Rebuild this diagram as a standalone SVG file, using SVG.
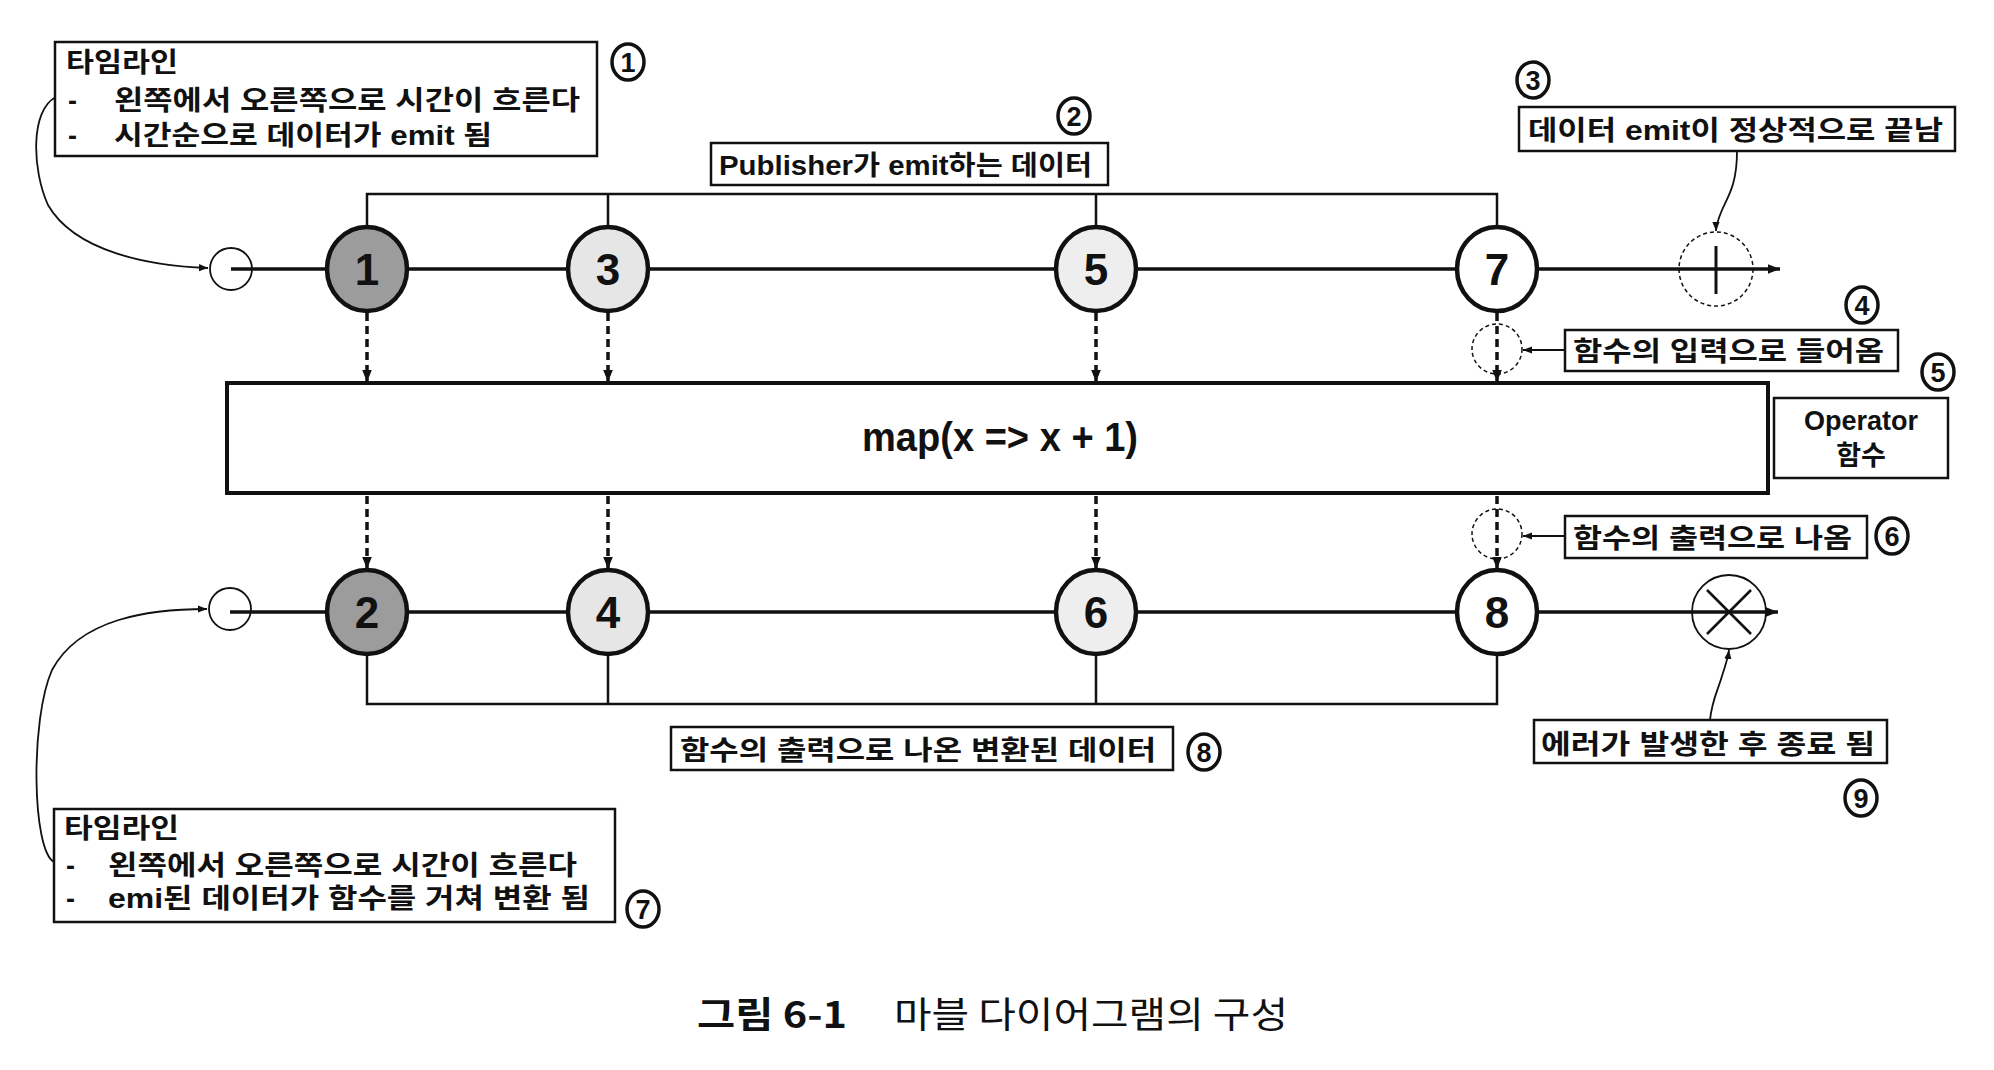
<svg xmlns="http://www.w3.org/2000/svg" width="1994" height="1070" viewBox="0 0 1994 1070">
<style>
.kr{font-family:"Liberation Sans","Noto Sans CJK KR","Noto Sans",sans-serif;font-weight:700;font-size:27px;fill:#111}
.num{font-family:"Liberation Sans",Arial,sans-serif;font-weight:700;font-size:44px;fill:#111;text-anchor:middle}
.cn{font-family:"Liberation Sans",Arial,sans-serif;font-weight:700;font-size:27px;fill:#111;text-anchor:middle}
.box{fill:#fff;stroke:#111;stroke-width:2.5}
.tl{stroke:#111;stroke-width:3.5;fill:none}
.br{stroke:#111;stroke-width:2.5;fill:none}
.dash{stroke:#111;stroke-width:3.5;stroke-dasharray:8 5;fill:none}
.thin{stroke:#111;stroke-width:1.8;fill:none}
.dc{stroke:#111;stroke-width:1.5;stroke-dasharray:4 3;fill:none}
.node{stroke:#111;stroke-width:4.5}
.cc{fill:#fff;stroke:#111;stroke-width:3.5}
</style>
<defs>
<marker id="ah" viewBox="0 0 10 10" refX="10" refY="5" markerWidth="12" markerHeight="12" markerUnits="userSpaceOnUse" orient="auto">
<path d="M0,1 L10,5 L0,9 z" fill="#111" stroke="none"/>
</marker>
<marker id="ahs" viewBox="0 0 10 10" refX="10" refY="5" markerWidth="9" markerHeight="9" markerUnits="userSpaceOnUse" orient="auto">
<path d="M0,1 L10,5 L0,9 z" fill="#111" stroke="none"/>
</marker>
</defs>
<rect width="1994" height="1070" fill="#fff"/>

<g id="connectors">
<line class="tl" x1="231" y1="269" x2="1780" y2="269" marker-end="url(#ah)"/>
<line class="tl" x1="231" y1="612" x2="1778" y2="612" marker-end="url(#ah)"/>
<path class="br" d="M367 227 V194 H1497 V227 M608 194 V227 M1096 194 V227"/>
<path class="br" d="M367 654 V704 H1497 V654 M608 704 V654 M1096 704 V654"/>
<line class="dash" x1="367" y1="313" x2="367" y2="382" marker-end="url(#ah)"/>
<line class="dash" x1="608" y1="313" x2="608" y2="382" marker-end="url(#ah)"/>
<line class="dash" x1="1096" y1="313" x2="1096" y2="382" marker-end="url(#ah)"/>
<line class="dash" x1="367" y1="496" x2="367" y2="569" marker-end="url(#ah)"/>
<line class="dash" x1="608" y1="496" x2="608" y2="569" marker-end="url(#ah)"/>
<line class="dash" x1="1096" y1="496" x2="1096" y2="569" marker-end="url(#ah)"/>
<path class="thin" d="M56 97 C30 110, 32 170, 48 205 C75 252, 150 266, 208 268" marker-end="url(#ahs)"/>
<path class="thin" d="M54 862 C32 850, 30 720, 52 670 C80 618, 150 609, 207 609" marker-end="url(#ahs)"/>
<path class="thin" d="M1737 151 C1737 185, 1728 196, 1722 210 C1717 222, 1716 226, 1716 231" marker-end="url(#ahs)"/>
<path class="thin" d="M1710 720 C1712 700, 1718 690, 1722 676 C1726 664, 1728 658, 1729 650" marker-end="url(#ahs)"/>
<line class="thin" x1="1565" y1="350" x2="1523" y2="350" marker-end="url(#ahs)"/>
<line class="thin" x1="1565" y1="536" x2="1523" y2="536" marker-end="url(#ahs)"/>
</g>

<g id="start-top"><circle cx="231" cy="269" r="21" class="thin" style="fill:#fff"/><line class="tl" x1="231" y1="269" x2="252" y2="269"/></g>
<g id="start-bottom"><circle cx="230" cy="609" r="21" class="thin" style="fill:#fff"/><line class="tl" x1="230" y1="612" x2="251" y2="612"/></g>

<g id="node-1"><ellipse cx="367" cy="269" rx="40" ry="42" class="node" fill="#9c9c9c"/><text x="367" y="285" class="num">1</text></g>
<g id="node-3"><ellipse cx="608" cy="269" rx="40" ry="42" class="node" fill="#e6e6e6"/><text x="608" y="285" class="num">3</text></g>
<g id="node-5"><ellipse cx="1096" cy="269" rx="40" ry="42" class="node" fill="#eeeeee"/><text x="1096" y="285" class="num">5</text></g>
<g id="node-7"><ellipse cx="1497" cy="269" rx="40" ry="42" class="node" fill="#fff"/><text x="1497" y="285" class="num">7</text></g>

<g id="node-2"><ellipse cx="367" cy="612" rx="40" ry="42" class="node" fill="#9c9c9c"/><text x="367" y="628" class="num">2</text></g>
<g id="node-4"><ellipse cx="608" cy="612" rx="40" ry="42" class="node" fill="#e6e6e6"/><text x="608" y="628" class="num">4</text></g>
<g id="node-6"><ellipse cx="1096" cy="612" rx="40" ry="42" class="node" fill="#eeeeee"/><text x="1096" y="628" class="num">6</text></g>
<g id="node-8"><ellipse cx="1497" cy="612" rx="40" ry="42" class="node" fill="#fff"/><text x="1497" y="628" class="num">8</text></g>

<g id="complete"><circle cx="1716" cy="269" r="37" class="dc"/><line x1="1716" y1="246" x2="1716" y2="294" stroke="#111" stroke-width="3"/></g>
<g id="error"><circle cx="1729" cy="612" r="37" class="thin"/><path d="M1707 590 L1751 634 M1751 590 L1707 634" stroke="#111" stroke-width="2.6" fill="none"/></g>

<g id="in-7">
<circle cx="1497" cy="349" r="25" class="dc"/>
<line class="dash" x1="1497" y1="313" x2="1497" y2="382" marker-end="url(#ah)"/>
</g>
<g id="out-8">
<circle cx="1497" cy="534" r="25" class="dc"/>
<line class="dash" x1="1497" y1="496" x2="1497" y2="569" marker-end="url(#ah)"/>
</g>

<g id="operator">
<rect x="227" y="383" width="1541" height="110" fill="#fff" stroke="#111" stroke-width="4"/>
<text x="862" y="451" font-family="Liberation Sans, Arial, sans-serif" font-weight="700" font-size="40" fill="#111" textLength="276" lengthAdjust="spacingAndGlyphs">map(x =&gt; x + 1)</text>
</g>

<g id="label-1">
<rect class="box" x="55" y="42" width="542" height="114"/>
<text class="kr"><tspan x="66" y="72" textLength="112" lengthAdjust="spacingAndGlyphs">타임라인</tspan><tspan x="68" y="110">-</tspan><tspan x="114" y="110" textLength="466" lengthAdjust="spacingAndGlyphs">왼쪽에서 오른쪽으로 시간이 흐른다</tspan><tspan x="68" y="145">-</tspan><tspan x="114" y="145" textLength="378" lengthAdjust="spacingAndGlyphs">시간순으로 데이터가 emit 됨</tspan></text>
<ellipse class="cc" cx="628" cy="62" rx="16" ry="18"/><text class="cn" x="628" y="72">1</text>
</g>

<g id="label-2">
<rect class="box" x="711" y="143" width="397" height="42"/>
<text class="kr" x="719" y="175" textLength="373" lengthAdjust="spacingAndGlyphs">Publisher가 emit하는 데이터</text>
<ellipse class="cc" cx="1074" cy="116" rx="16" ry="18"/><text class="cn" x="1074" y="126">2</text>
</g>

<g id="label-3">
<rect class="box" x="1519" y="107" width="436" height="44"/>
<text class="kr" x="1528" y="140" textLength="415" lengthAdjust="spacingAndGlyphs">데이터 emit이 정상적으로 끝남</text>
<ellipse class="cc" cx="1533" cy="80" rx="16" ry="18"/><text class="cn" x="1533" y="90">3</text>
</g>

<g id="label-4">
<rect class="box" x="1565" y="330" width="333" height="41"/>
<text class="kr" x="1573" y="361" textLength="311" lengthAdjust="spacingAndGlyphs">함수의 입력으로 들어옴</text>
<ellipse class="cc" cx="1862" cy="305" rx="16" ry="18"/><text class="cn" x="1862" y="315">4</text>
</g>

<g id="label-5">
<rect class="box" x="1774" y="398" width="174" height="80"/>
<text class="kr" font-size="26" text-anchor="middle"><tspan x="1861" y="430">Operator</tspan><tspan x="1861" y="465">함수</tspan></text>
<ellipse class="cc" cx="1938" cy="372" rx="16" ry="18"/><text class="cn" x="1938" y="382">5</text>
</g>

<g id="label-6">
<rect class="box" x="1565" y="516" width="302" height="42"/>
<text class="kr" x="1573" y="548" textLength="279" lengthAdjust="spacingAndGlyphs">함수의 출력으로 나옴</text>
<ellipse class="cc" cx="1892" cy="536" rx="16" ry="18"/><text class="cn" x="1892" y="546">6</text>
</g>

<g id="label-7">
<rect class="box" x="54" y="809" width="561" height="113"/>
<text class="kr"><tspan x="64" y="838" textLength="115" lengthAdjust="spacingAndGlyphs">타임라인</tspan><tspan x="66" y="875">-</tspan><tspan x="108" y="875" textLength="469" lengthAdjust="spacingAndGlyphs">왼쪽에서 오른쪽으로 시간이 흐른다</tspan><tspan x="66" y="908">-</tspan><tspan x="108" y="908" textLength="482" lengthAdjust="spacingAndGlyphs">emi된 데이터가 함수를 거쳐 변환 됨</tspan></text>
<ellipse class="cc" cx="643" cy="909" rx="16" ry="18"/><text class="cn" x="643" y="919">7</text>
</g>

<g id="label-8">
<rect class="box" x="671" y="727" width="502" height="43"/>
<text class="kr" x="680" y="760" textLength="476" lengthAdjust="spacingAndGlyphs">함수의 출력으로 나온 변환된 데이터</text>
<ellipse class="cc" cx="1204" cy="752" rx="16" ry="18"/><text class="cn" x="1204" y="762">8</text>
</g>

<g id="label-9">
<rect class="box" x="1534" y="720" width="353" height="43"/>
<text class="kr" x="1541" y="754" textLength="334" lengthAdjust="spacingAndGlyphs">에러가 발생한 후 종료 됨</text>
<ellipse class="cc" cx="1861" cy="798" rx="16" ry="18"/><text class="cn" x="1861" y="808">9</text>
</g>

<g id="caption">
<text x="697" y="1028" font-family="Noto Sans CJK KR, Noto Sans, sans-serif" font-size="36" fill="#111"><tspan font-weight="700" textLength="150" lengthAdjust="spacingAndGlyphs">그림 6-1</tspan><tspan x="894" textLength="394" lengthAdjust="spacingAndGlyphs">마블 다이어그램의 구성</tspan></text>
</g>
</svg>
